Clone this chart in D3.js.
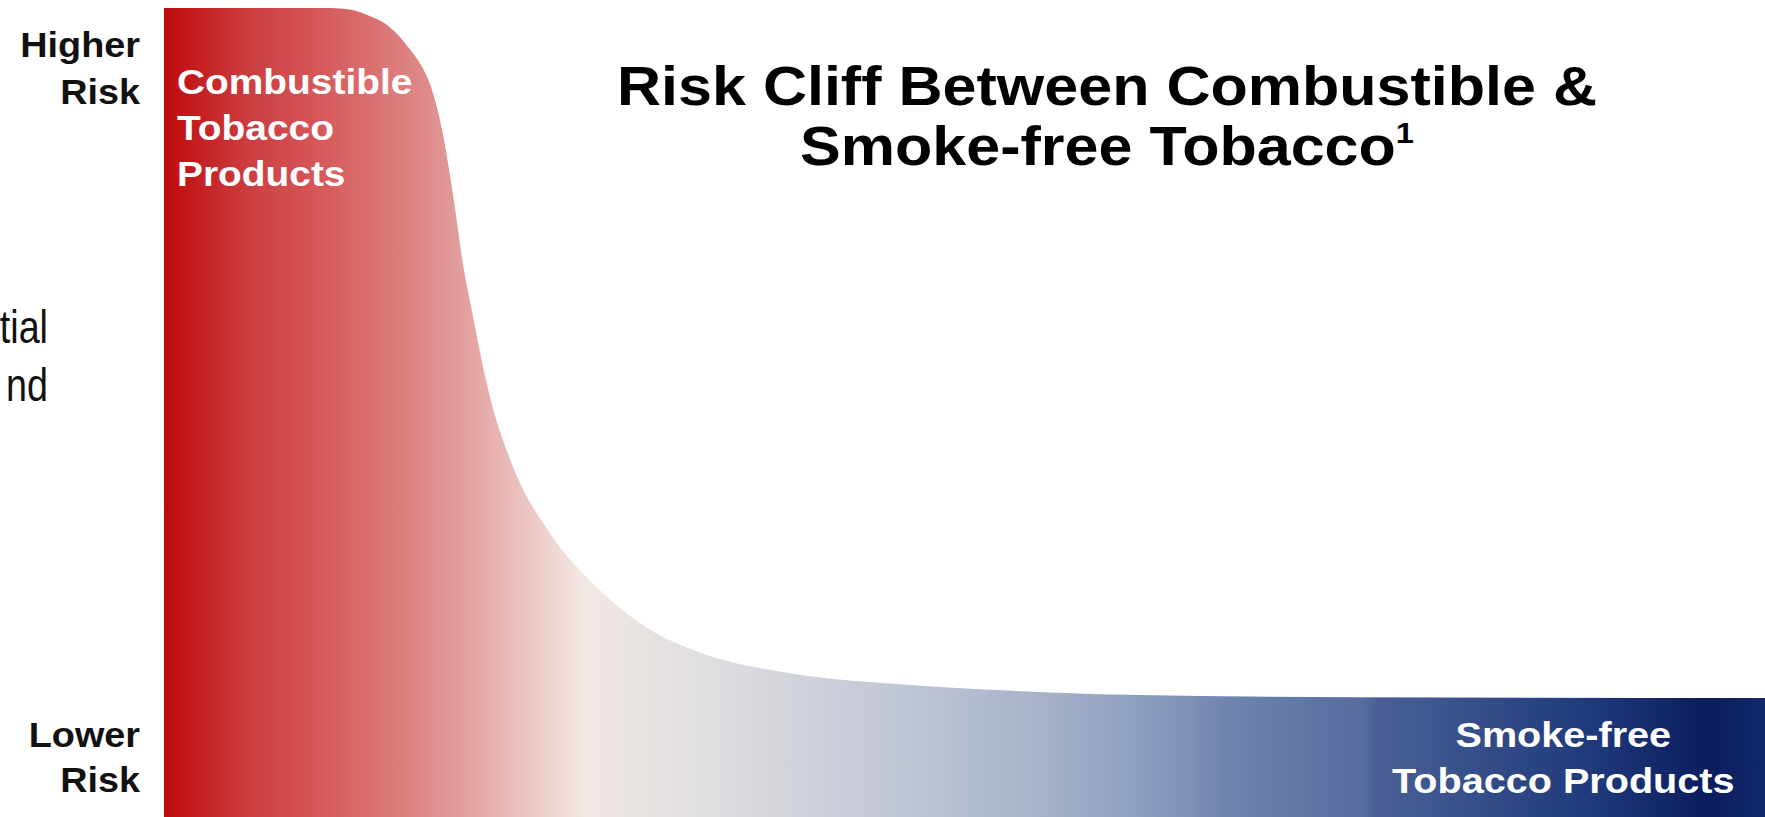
<!DOCTYPE html>
<meta charset="utf-8">
<head>
</head>
<body>
<style>
body { margin: 0; background: #fff; }
text { font-family: "Liberation Sans", Arial, sans-serif; }
.side-label { font-size: 35px; font-weight: bold; fill: #111; }
.band-label { font-size: 36px; font-weight: bold; fill: #fff; }
.title { font-size: 56px; font-weight: bold; fill: #000; }
.cut-text { font-size: 46px; fill: #111; }
</style>
<svg width="1765" height="817"></svg>
<script src="https://d3js.org/d3.v7.min.js"></script>
<script>
// position along the product spectrum (0 = combustible, 100 = smoke-free)
var productPosition = [0, 10.4, 11.6, 12.6, 13.7, 14.6, 15.4, 16.0, 16.6, 17.4, 18.1, 18.7, 19.1, 20.4, 21.8, 24.1, 27.2, 30.4, 33.5, 39.0, 46.0, 53.0, 60.1, 74.1, 100];
// relative risk (0 = lowest, 100 = highest)
var relativeRisk = [100, 100, 99.8, 99.2, 98.2, 96.7, 94.8, 93.1, 90.7, 84.6, 76.3, 68.0, 63.9, 51.6, 43.3, 35.1, 28.1, 23.1, 20.3, 17.8, 16.4, 15.6, 15.1, 14.8, 14.7];

var riskLabels = [["Higher", "Risk"], ["Lower", "Risk"]];
var titleLines = ["Risk Cliff Between Combustible &", "Smoke-free Tobacco"];
var footnote = "1";
var combustibleLabel = ["Combustible", "Tobacco", "Products"];
var smokeFreeLabel = ["Smoke-free", "Tobacco Products"];
var cutOffText = ["tial", "nd"];

// colour ramp along the spectrum
var rampPosition = [0, 5.6, 8.5, 15.2, 17.9, 20.4, 26.2, 34.5, 44.1, 53.8, 60.2, 67.2, 75.0, 75.7, 89.1, 96.3, 100];
var rampColor = ["#c00a0c", "#cc4043", "#d45052", "#dc8080", "#e09898", "#e6b0ae", "#f1e8e3", "#dedde0", "#c5cad6", "#a9b5cb", "#91a1c0", "#6c81ac", "#566d9f", "#4a6096", "#1f3a7b", "#0a1d5e", "#12286a"];

var svg = d3.select("svg"),
  width = +svg.attr("width"),
  height = +svg.attr("height");

var x = d3.scaleLinear().domain([0, 100]).range([164, width]);
var y = d3.scaleLinear().domain([0, 100]).range([height, 8]);

var grad = svg.append("defs").append("linearGradient")
  .attr("id", "ramp")
  .attr("gradientUnits", "userSpaceOnUse")
  .attr("x1", x(0)).attr("x2", x(100))
  .attr("y1", 0).attr("y2", 0);

grad.selectAll("stop")
  .data(rampPosition)
  .enter().append("stop")
  .attr("offset", function(d) { return d / 100; })
  .attr("stop-color", function(d, i) { return rampColor[i]; });

var points = productPosition.map(function(p, i) { return [p, relativeRisk[i]]; });

var area = d3.area()
  .x(function(d) { return x(d[0]); })
  .y0(y(0))
  .y1(function(d) { return y(d[1]); })
  .curve(d3.curveMonotoneX);

svg.append("path")
  .datum(points)
  .attr("d", area)
  .attr("fill", "url(#ramp)");

// text drawn a little wider than the font, like the slide
function label(g, cls, anchor, px, py, str, sx) {
  return g.append("text")
    .attr("class", cls)
    .attr("text-anchor", anchor)
    .attr("transform", "translate(" + px + "," + py + ") scale(" + (sx || 1.08) + ",1)")
    .text(str);
}

// risk axis labels
var axisX = x(0) - 24;
riskLabels[0].forEach(function(s, i) { label(svg, "side-label", "end", axisX, y(94) + i * 47, s); });
riskLabels[1].forEach(function(s, i) { label(svg, "side-label", "end", axisX, y(8.6) + i * 45, s); });

// band labels
combustibleLabel.forEach(function(s, i) { label(svg, "band-label", "start", x(0) + 13, y(89.4) + i * 46, s); });
smokeFreeLabel.forEach(function(s, i) { label(svg, "band-label", "middle", x(87.4), y(8.6) + i * 46, s, 1.1); });

// title
var cx = 1107;
label(svg, "title", "middle", cx, 105, titleLines[0], 1.09);
var t2 = label(svg, "title", "middle", cx, 165, titleLines[1], 1.09);
t2.append("tspan")
  .attr("font-size", "30px")
  .attr("dy", -22)
  .text(footnote);

// text running in from the left edge of the slide
cutOffText.forEach(function(s, i) { label(svg, "cut-text", "end", 48, 343 + i * 58, s, 0.82); });
</script>
</body>
